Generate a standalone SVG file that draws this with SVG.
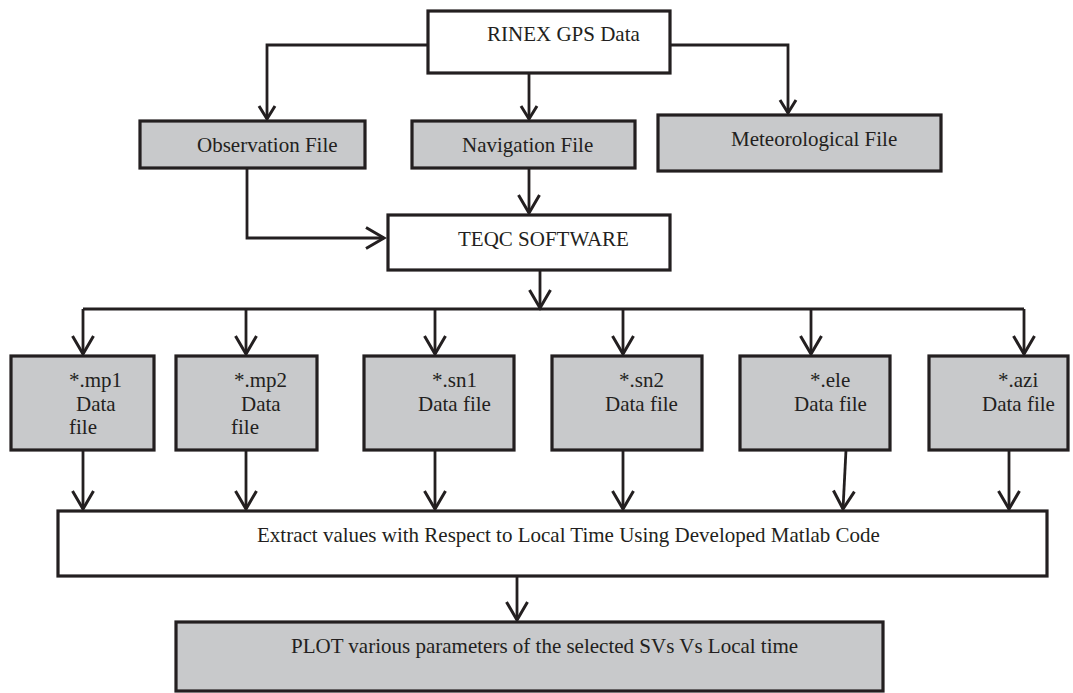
<svg xmlns="http://www.w3.org/2000/svg" width="1073" height="693" viewBox="0 0 1073 693">
<style>
.bw{fill:#ffffff;stroke:#231f20;stroke-width:3.2}
.bg{fill:#c8c9cb;stroke:#231f20;stroke-width:3.2}
.t{font-family:"Liberation Serif","Times New Roman",serif;font-size:21px;fill:#231f20}
.c{fill:none;stroke:#231f20;stroke-width:2.8}
.s{marker-end:url(#hs)}
.l{marker-end:url(#hl)}
</style>
<defs>
<marker id="hs" markerUnits="userSpaceOnUse" markerWidth="30" markerHeight="30" refX="0" refY="0" orient="auto" overflow="visible">
<path d="M-13,-8 L0,0 L-13,8" fill="none" stroke="#231f20" stroke-width="3"/>
</marker>
<marker id="hl" markerUnits="userSpaceOnUse" markerWidth="30" markerHeight="30" refX="0" refY="0" orient="auto" overflow="visible">
<path d="M-18,-10.5 L0,0 L-18,10.5" fill="none" stroke="#231f20" stroke-width="3"/>
</marker>
</defs>
<rect width="1073" height="693" fill="#ffffff"/>
<g id="connectors">
<path class="c s" d="M428,45 H267 V119"/>
<path class="c s" d="M529,73 V119"/>
<path class="c s" d="M670,45 H788 V113"/>
<path class="c l" d="M529,168 V213"/>
<path class="c l" d="M247,168 V238 H384"/>
<path class="c l" d="M540,270 V308"/>
<path class="c" d="M83,309 H1024"/>
<path class="c l" d="M83,309 V354"/>
<path class="c l" d="M246,309 V354"/>
<path class="c l" d="M435,309 V354"/>
<path class="c l" d="M623,309 V354"/>
<path class="c l" d="M811,309 V354"/>
<path class="c l" d="M1024,309 V354"/>
<path class="c l" d="M83,450 V509"/>
<path class="c l" d="M246,450 V509"/>
<path class="c l" d="M435,450 V509"/>
<path class="c l" d="M623,450 V509"/>
<path class="c l" d="M846,450 L843,509"/>
<path class="c l" d="M1009,450 V509"/>
<path class="c l" d="M517,576 V620"/>
</g>
<g id="rinex"><rect class="bw" x="428" y="11" width="242" height="62"/><text class="t" x="487" y="41">RINEX GPS Data</text></g>
<g id="obs"><rect class="bg" x="140" y="121" width="225" height="47"/><text class="t" x="197" y="152">Observation File</text></g>
<g id="nav"><rect class="bg" x="412" y="121" width="223" height="47"/><text class="t" x="462" y="152">Navigation File</text></g>
<g id="met"><rect class="bg" x="658" y="115" width="283" height="56"/><text class="t" x="731" y="146">Meteorological File</text></g>
<g id="teqc"><rect class="bw" x="388" y="215" width="282" height="55"/><text class="t" x="458" y="246">TEQC SOFTWARE</text></g>
<g id="mp1"><rect class="bg" x="11" y="356" width="143" height="94"/><text class="t" x="69" y="387">*.mp1</text><text class="t" x="76" y="411">Data</text><text class="t" x="69" y="434">file</text></g>
<g id="mp2"><rect class="bg" x="176" y="356" width="141" height="94"/><text class="t" x="234" y="387">*.mp2</text><text class="t" x="241" y="411">Data</text><text class="t" x="231" y="434">file</text></g>
<g id="sn1"><rect class="bg" x="364" y="356" width="150" height="94"/><text class="t" x="432" y="387">*.sn1</text><text class="t" x="418" y="411">Data file</text></g>
<g id="sn2"><rect class="bg" x="552" y="356" width="150" height="94"/><text class="t" x="619" y="387">*.sn2</text><text class="t" x="605" y="411">Data file</text></g>
<g id="ele"><rect class="bg" x="740" y="356" width="150" height="94"/><text class="t" x="810" y="387">*.ele</text><text class="t" x="794" y="411">Data file</text></g>
<g id="azi"><rect class="bg" x="929" y="356" width="139" height="94"/><text class="t" x="998" y="387">*.azi</text><text class="t" x="982" y="411">Data file</text></g>
<g id="extract"><rect class="bw" x="58" y="511" width="989" height="65"/><text class="t" x="257" y="542">Extract values with Respect to Local Time Using Developed Matlab Code</text></g>
<g id="plot"><rect class="bg" x="176" y="622" width="707" height="69"/><text class="t" x="291" y="653">PLOT various parameters of the selected SVs Vs Local time</text></g>
</svg>
